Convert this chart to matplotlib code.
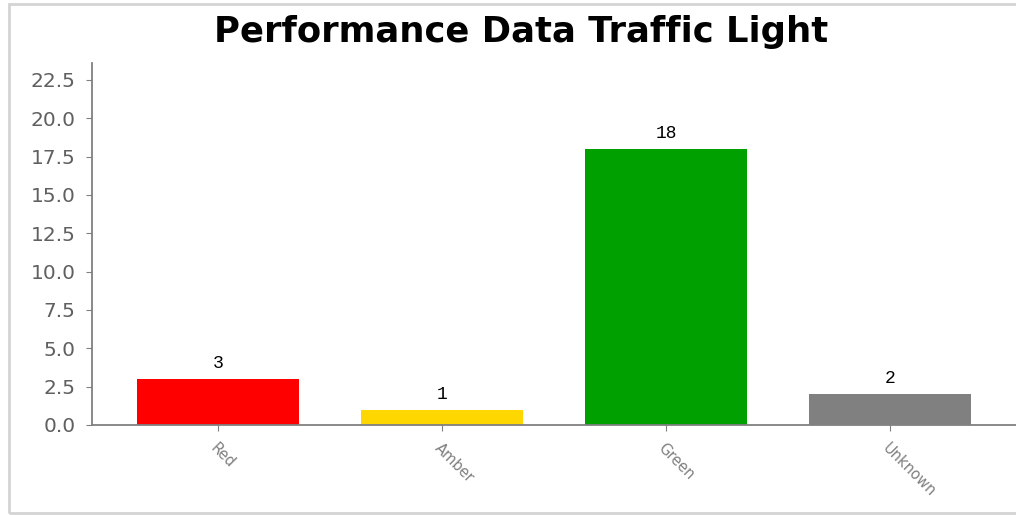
import matplotlib
matplotlib.use("Agg")
import matplotlib.pyplot as plt
from matplotlib.patches import Rectangle

categories = ["Red", "Amber", "Green", "Unknown"]
values = [3, 1, 18, 2]
colors = ["#FF0000", "#FFD700", "#00A000", "#808080"]
yticks = [0.0, 2.5, 5.0, 7.5, 10.0, 12.5, 15.0, 17.5, 20.0, 22.5]
title = "Performance Data Traffic Light"

W, H = 1016, 515
fig = plt.figure(figsize=(W / 100, H / 100), dpi=100)
fig.patch.set_facecolor("white")

# outer border
fig.patches.append(Rectangle((9 / W, 2 / H), 1.2, (H - 6) / H, transform=fig.transFigure,
                             fill=False, edgecolor="#d4d4d4", linewidth=2))

ax = fig.add_axes([92 / W, 1 - 425 / H, 1 - 92 / W, (425 - 63) / H])
x = list(range(len(categories)))
bars = ax.bar(x, values, width=0.723, color=colors)
ax.set_xlim(-0.5625, 3.5625)
ax.set_ylim(0, 23.6)
ax.set_yticks(yticks)
ax.set_yticklabels([f"{v:.1f}" for v in yticks])
ax.set_xticks(x)
ax.set_xticklabels(categories, rotation=-45, ha="left", rotation_mode="anchor",
                   fontsize=10.5, color="#555555")
for s in ["top", "right"]:
    ax.spines[s].set_visible(False)
for s in ["left", "bottom"]:
    ax.spines[s].set_color("#808080")
    ax.spines[s].set_linewidth(1.3)
ax.tick_params(axis="y", colors="#808080", labelcolor="#606060", labelsize=14.5, length=4, pad=8)
ax.tick_params(axis="x", colors="#808080", length=4, pad=7)

for xi, v in zip(x, values):
    ax.annotate(str(v), (xi, v), xytext=(0, 5), textcoords="offset points",
                ha="center", va="bottom", fontsize=13, family="Liberation Mono", color="black")

fig.text(521 / W, 1 - 32 / H, title, ha="center", va="center", fontsize=25.5,
         fontweight="bold", color="black")

fig.savefig("out.png", dpi=100)
